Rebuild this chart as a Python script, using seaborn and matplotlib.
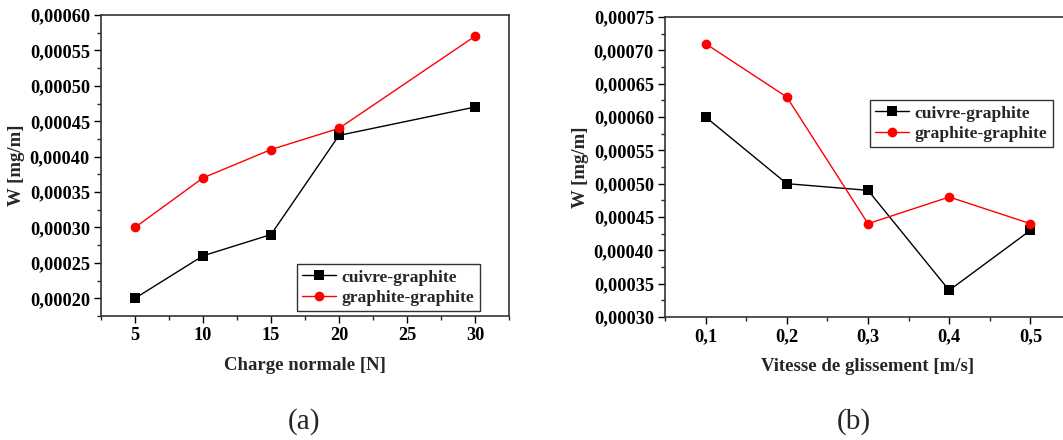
import matplotlib
matplotlib.use("Agg")
import matplotlib.pyplot as plt
import matplotlib.ticker as mticker
import seaborn as sns
import pandas as pd

# ---- data ----
charge = [5, 10, 15, 20, 30]
charge_cuivre = [0.00020, 0.00026, 0.00029, 0.00043, 0.00047]
charge_graphite = [0.00030, 0.00037, 0.00041, 0.00044, 0.00057]

vitesse = [0.1, 0.2, 0.3, 0.4, 0.5]
vitesse_cuivre = [0.00060, 0.00050, 0.00049, 0.00034, 0.00043]
vitesse_graphite = [0.00071, 0.00063, 0.00044, 0.00048, 0.00044]

series_names = ["cuivre-graphite", "graphite-graphite"]
xlabel_a = "Charge normale [N]"
xlabel_b = "Vitesse de glissement [m/s]"
ylabel = "W [mg/m]"
panel_labels = ["(a)", "(b)"]

sns.set_theme(style="ticks")
plt.rcParams["font.family"] = ["Liberation Serif", "DejaVu Serif"]
plt.rcParams["font.weight"] = "bold"

def make_df(x, a, b):
    return pd.DataFrame({
        "x": list(x) + list(x),
        "y": list(a) + list(b),
        "serie": [series_names[0]] * len(x) + [series_names[1]] * len(x),
    })

fig = plt.figure(figsize=(10.63, 4.40), dpi=100)
W, H = 1063, 440
ax_a = fig.add_axes([101 / W, 1 - 316 / H, (509 - 101) / W, (316 - 15) / H])
ax_b = fig.add_axes([665 / W, 1 - 317 / H, (1071 - 665) / W, (317 - 17) / H])

palette = {series_names[0]: "black", series_names[1]: "red"}
markers = {series_names[0]: "s", series_names[1]: "o"}

def fmt(v, pos):
    return f"{v:.5f}".replace(".", ",")

TICK_FS = 13.2
LAB_FS = 13.5
LEG_FS = 12.6

configs = [
    (ax_a, make_df(charge, charge_cuivre, charge_graphite), xlabel_a,
     (2.5, 32.5), (0.000175, 0.00060), 5, 0.00005,
     lambda v, p: f"{int(round(v))}"),
    (ax_b, make_df(vitesse, vitesse_cuivre, vitesse_graphite), xlabel_b,
     (0.05, 0.55), (0.00030, 0.00075), 0.1, 0.00005,
     lambda v, p: f"{v:.1f}".replace(".", ",")),
]

for ax, df, xl, xlim, ylim, xmaj, ymaj, xfmt in configs:
    sns.lineplot(data=df, x="x", y="y", hue="serie", style="serie",
                 palette=palette, markers=markers, dashes=False,
                 linewidth=1.0, markersize=7, markeredgewidth=0, ax=ax)
    ax.set_xlim(*xlim)
    ax.set_ylim(*ylim)
    ax.xaxis.set_major_locator(mticker.MultipleLocator(xmaj))
    ax.xaxis.set_minor_locator(mticker.MultipleLocator(xmaj / 2))
    ax.yaxis.set_major_locator(mticker.MultipleLocator(ymaj))
    ax.yaxis.set_minor_locator(mticker.MultipleLocator(ymaj / 2))
    ax.yaxis.set_major_formatter(mticker.FuncFormatter(fmt))
    ax.xaxis.set_major_formatter(mticker.FuncFormatter(xfmt))
    ax.tick_params(axis="both", which="major", direction="out", length=5,
                   width=1, labelsize=TICK_FS, colors="black", pad=3)
    ax.tick_params(axis="both", which="minor", direction="out", length=3, width=1)
    for lab in ax.get_xticklabels() + ax.get_yticklabels():
        lab.set_fontweight("bold")
    for sp in ax.spines.values():
        sp.set_visible(True)
        sp.set_color("#333333")
        sp.set_linewidth(1.2)
    ax.set_xlabel(xl, fontsize=LAB_FS, fontweight="bold", labelpad=9)
    ax.set_ylabel(ylabel, fontsize=LAB_FS, fontweight="bold", labelpad=3)

leg_kw = dict(loc="upper left", frameon=True, fancybox=False, edgecolor="black",
              prop={"weight": "bold", "size": LEG_FS}, handlelength=1.9,
              borderpad=0.3, labelspacing=0.25, handletextpad=0.35,
              borderaxespad=0.0, bbox_transform=fig.transFigure)
leg_a = ax_a.legend(bbox_to_anchor=(297 / W, 1 - 264 / H), **leg_kw)
leg_b = ax_b.legend(bbox_to_anchor=(870 / W, 1 - 100 / H), **leg_kw)
for leg in (leg_a, leg_b):
    leg.get_frame().set_linewidth(1.0)

fig.text(304 / W, 1 - 422 / H, panel_labels[0], ha="center", va="center",
         fontsize=21, fontweight="normal")
fig.text(854 / W, 1 - 422 / H, panel_labels[1], ha="center", va="center",
         fontsize=21, fontweight="normal")

fig.savefig("out.png", dpi=100, facecolor="white")
